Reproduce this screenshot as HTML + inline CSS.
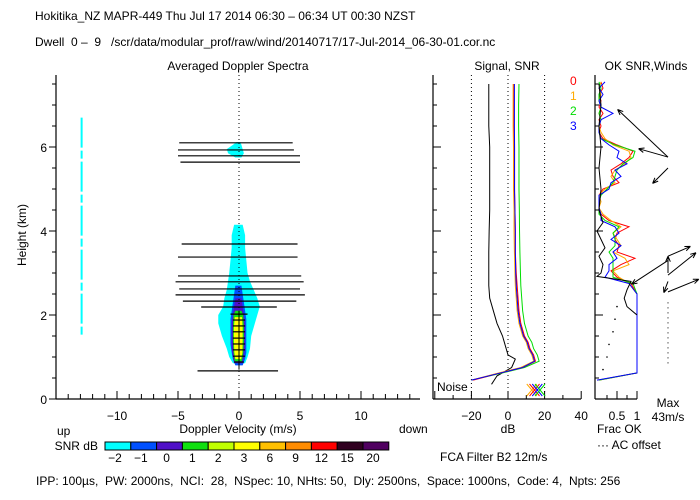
<!DOCTYPE html>
<html><head><meta charset="utf-8"><style>
body{margin:0;background:#fff}
svg{display:block}
text{font-family:"Liberation Sans",sans-serif;font-size:12px;fill:#000}
</style></head><body>
<svg id="chart" width="700" height="500" viewBox="0 0 700 500">
<text x="35" y="20" font-size="13">Hokitika_NZ  MAPR-449  Thu Jul 17 2014 06:30 – 06:34 UT 00:30 NZST</text>
<text x="35" y="46" xml:space="preserve">Dwell  0 –  9   /scr/data/modular_prof/raw/wind/20140717/17-Jul-2014_06-30-01.cor.nc</text>
<text x="238" y="70" text-anchor="middle">Averaged Doppler Spectra</text>
<text x="507" y="70" text-anchor="middle">Signal, SNR</text>
<text x="646" y="70" text-anchor="middle">OK  SNR,Winds</text>
<text x="26" y="235" text-anchor="middle" transform="rotate(-90 26 235)">Height (km)</text>
<text x="238" y="433" text-anchor="middle">Doppler Velocity (m/s)</text>
<text x="57" y="435">up</text>
<text x="399" y="433">down</text>
<text x="98" y="450" text-anchor="end">SNR dB</text>
<text x="508" y="433" text-anchor="middle">dB</text>
<text x="597" y="433">Frac OK</text>
<text x="597" y="449">··· AC offset</text>
<text x="668" y="407" text-anchor="middle">Max</text>
<text x="668" y="421" text-anchor="middle">43m/s</text>
<text x="440" y="461">FCA Filter B2 12m/s</text>
<text x="437" y="391">Noise</text>
<text x="36" y="485" font-size="11.5" xml:space="preserve">IPP: 100µs,  PW: 2000ns,  NCI:  28,  NSpec: 10, NHts: 50,  Dly: 2500ns,  Space: 1000ns,  Code: 4,  Npts: 256</text>
<g id="legend">
<text x="570" y="85" fill="#f00" style="fill:#f00">0</text>
<text x="570" y="100" style="fill:#fa0">1</text>
<text x="570" y="115" style="fill:#0d0">2</text>
<text x="570" y="130" style="fill:#00f">3</text>
</g>
<g id="plots"></g>
</svg>
<script>
// ---- data ----
const snrColors = ['#00ffff','#0050ff','#5010c8','#10e010','#c0ff00','#ffff00','#ffc000','#ff8c00','#ff0000','#300020','#500060'];
const snrLabels = ['−2','−1','0','1','2','3','6','9','12','15','20'];
const cyanH = [0.85,1.0,1.2,1.5,1.8,2.0,2.2,2.4,2.6,2.8,3.0,3.3,3.6,3.9,4.15];
const cyanL = [-0.5,-0.8,-1.0,-1.4,-1.7,-1.7,-1.3,-1.2,-1.0,-0.9,-0.8,-0.7,-0.6,-0.6,-0.4];
const cyanR = [0.5,0.7,0.9,1.0,1.3,1.5,1.7,1.5,1.2,0.9,0.7,0.6,0.5,0.5,0.3];
const blobH = [5.75,5.85,5.95,6.05,6.12];
const blobL = [-0.3,-0.9,-1.0,-0.5,-0.2];
const blobR = [0.2,0.4,0.3,0.2,0.1];
const blueH = [0.8,0.95,1.1,1.3,1.6,1.9,2.1,2.3,2.5,2.7];
const blueL = [-0.3,-0.5,-0.6,-0.7,-0.7,-0.7,-0.6,-0.5,-0.4,-0.3];
const blueR = [0.3,0.5,0.6,0.6,0.6,0.6,0.5,0.4,0.3,0.2];
const purpH = [0.85,1.0,1.2,1.5,1.8,2.0,2.2,2.4];
const purpL = [-0.4,-0.5,-0.6,-0.6,-0.6,-0.5,-0.4,-0.3];
const purpR = [0.3,0.4,0.5,0.5,0.5,0.4,0.3,0.2];
const greenH = [0.9,1.1,1.4,1.7,2.0,2.1];
const greenL = [-0.35,-0.45,-0.5,-0.5,-0.45,-0.3];
const greenR = [0.25,0.35,0.4,0.4,0.35,0.2];
const yellH = [0.95,1.1,1.4,1.7,1.95];
const yellL = [-0.3,-0.38,-0.42,-0.42,-0.35];
const yellR = [0.18,0.28,0.3,0.3,0.25];
const widthH = [6.1,5.93,5.79,5.64,3.69,3.38,2.93,2.79,2.62,2.48,2.33,2.19,2.02,1.88,1.74,1.6,1.45,1.31,1.17,1.02,0.88,0.67];
const widthL = [-4.9,-5,-5,-4.8,-4.7,-5,-5,-5.2,-4.9,-5.2,-4.6,-3.1,-0.7,-0.5,-0.5,-0.5,-0.5,-0.5,-0.5,-0.5,-0.4,-3.4];
const widthR = [4.4,4.5,5,5,4.8,4.8,5.1,5.3,5,5.4,4.7,3.1,0.7,0.5,0.5,0.5,0.5,0.5,0.5,0.5,0.4,3.2];
const velTicks = [-10,-5,0,5,10];
const hTicks = [0,2,4,6];
const sigH = [0.45,0.6,0.75,0.9,1.05,1.2,1.35,1.5,1.8,2.1,2.4,2.7,3.0,3.5,4.0,4.5,5.0,5.5,6.0,6.5,7.0,7.5];
const snrRed = [-19,-6,8,15,14,12,11,9,7,6,5.5,5,4.5,4,4,3.8,3.5,3.5,3.5,3.3,3.3,3.3];
const snrOrange = [-20,-7,7,14,13,11,10,8,6,5,4.5,4,3.8,3.5,3.3,3.3,3,3,3,2.8,2.8,2.8];
const snrGreen = [-20,-5,9,17,16,14,13,11,9,8,7.5,7,6.8,6.5,6.3,6.2,6,6,6,5.8,5.8,6];
const snrBlue = [-20,-6,8,14.5,13.5,11.5,10.5,8.5,6.5,5.5,5,4.5,4.2,4,4,3.8,3.6,3.6,3.6,3.5,3.5,3.5];
const sigBlackH = [0.35,0.55,0.75,0.95,1.05,1.2,1.35,1.5,1.8,2.1,2.4,2.7,3.0,3.5,4.0,4.5,5.0,5.5,6.0,6.5,7.0,7.5];
const sigBlack = [-9,-6,2,4,0,-1,-2,-3,-6,-8,-10,-10.5,-10.5,-10.5,-10.3,-10,-10,-10,-10,-10.5,-10.5,-10.5];
const dbTicks = [-20,0,20,40];
const okH = [0.45,0.62,1.0,1.5,2.0,2.5,2.75,2.9,3.05,3.2,3.35,3.5,3.65,3.8,3.95,4.1,4.25,4.4,4.55,4.7,4.85,5.0,5.15,5.3,5.45,5.6,5.75,5.9,6.05,6.2,6.35,6.5,6.65,6.8,6.95,7.1,7.25,7.4,7.55];
const okRed    = [0.05,1,1,1,1,1,0.85,0.5,0.35,0.6,0.95,0.5,0.55,0.45,0.5,0.8,0.3,0.1,0.05,0.05,0.05,0.15,0.55,0.4,0.35,0.6,0.8,0.9,0.5,0.15,0.05,0.1,0.05,0.15,0.05,0.1,0.05,0.15,0.1];
const okOrange = [0.02,1,1,1,1,1,0.8,0.55,0.4,0.8,0.7,0.4,0.6,0.5,0.4,0.6,0.35,0.15,0.05,0.1,0.05,0.2,0.45,0.35,0.45,0.7,0.85,0.8,0.4,0.2,0.1,0.05,0.1,0.05,0.1,0.05,0.1,0.05,0.1];
const okGreen  = [0.05,1,1,1,1,1,0.9,0.4,0.4,0.4,0.4,0.3,0.45,0.45,0.4,0.55,0.2,0.05,0.05,0.05,0.1,0.25,0.4,0.45,0.5,0.65,0.9,0.95,0.45,0.1,0.05,0.05,0.1,0.05,0.1,0.05,0.05,0.1,0.05];
const okBlue   = [0.0,1,1,1,1,1,0.8,0.2,0.3,0.3,0.5,0.4,0.6,0.35,0.55,0.45,0.1,0.1,0.05,0.05,0.05,0.3,0.35,0.6,0.45,0.75,0.5,0.55,0.3,0.1,0.05,0.05,0.1,0.4,0.1,0.05,0.15,0.05,0.2];
const okBlackH = [2.0,2.2,2.4,2.6,2.8,2.92,3.0,3.2,3.4,3.6,3.8,4.0,4.2,4.5,5.0,5.5,6.0,6.5,7.0,7.5];
const okBlack  = [1.0,0.75,0.68,0.75,0.85,0.0,0.1,0.15,0.05,0.2,0.1,0.0,0.15,0.05,0.1,0.05,0.1,0.05,0.1,0.05];
const acH = [0.7,1.0,1.3,1.6,1.9,2.2];
const acF = [0.15,0.25,0.3,0.4,0.45,0.5];
const windH = [5.76,5.76,5.5,3.3,3.4,2.55,3.0,2.8,2.95];
const windU = [-36,-21,-11,-26,16,22,0,-3,20];
const windV = [34,6,-11,-17,7,9,12,-8,16];
const okTicks = [0.5,1];

// ---- scales ----
const ns='http://www.w3.org/2000/svg';
const root=document.getElementById('plots');
const yH = h => 399 - h*42;
const xV = v => 239 + v*12.2;
const xDB = d => 508 + d*1.83;
const xOK = f => 597 + f*40;
function mk(tag, attrs, parent){const e=document.createElementNS(ns,tag);for(const k in attrs)e.setAttribute(k,attrs[k]);(parent||root).appendChild(e);return e;}

// spectra contours
function region(H,L,R,color,name){
  const pts=[];
  for(let i=0;i<H.length;i++)pts.push(xV(L[i])+','+yH(H[i]));
  for(let i=H.length-1;i>=0;i--)pts.push(xV(R[i])+','+yH(H[i]));
  const p=mk('polygon',{points:pts.join(' '),fill:color});
  
  
}
region(cyanH,cyanL,cyanR,snrColors[0],'snr-contour-cyan');
region(blobH,blobL,blobR,snrColors[0],'snr-contour-upper');
region(blueH,blueL,blueR,snrColors[1],'snr-contour-blue');
region(purpH,purpL,purpR,snrColors[2],'snr-contour-purple');
region(greenH,greenL,greenR,snrColors[3],'snr-contour-green');
region(yellH,yellL,yellR,snrColors[5],'snr-contour-yellow');
// stray line at -12.9
const sl=mk('line',{x1:xV(-12.9),x2:xV(-12.9),y1:yH(6.7),y2:yH(1.5),stroke:'#00ffff','stroke-width':2,'stroke-dasharray':'30 3 8 3'});


// zero line
const zl=mk('line',{x1:xV(0),x2:xV(0),y1:75,y2:399,stroke:'#000','stroke-dasharray':'1 3'});


// width lines
for(let i=0;i<widthH.length;i++){
  const l=mk('line',{x1:xV(widthL[i]),x2:xV(widthR[i]),y1:yH(widthH[i]),y2:yH(widthH[i]),stroke:'#000','stroke-width':1.2});
  
  
}
const ml=mk('line',{x1:xV(0),x2:xV(0),y1:yH(2.1),y2:yH(0.7),stroke:'#000','stroke-width':1});



// axes
function axisLine(x1,y1,x2,y2,name){const l=mk('line',{x1,y1,x2,y2,stroke:'#000','stroke-width':1.2});}
axisLine(56,75,56,399,'spectra-y-axis');
axisLine(56,399,420,399,'spectra-x-axis');
axisLine(433,75,433,399,'signal-y-axis');
axisLine(433,399,581,399,'signal-x-axis');
axisLine(595,75,595,399,'winds-y-axis');
axisLine(595,399,637,399,'winds-x-axis');
for(let h=0;h<=7.5;h+=0.5){
  const maj=(h%2===0);
  mk('line',{x1:maj?49:52,x2:56,y1:yH(h),y2:yH(h),stroke:'#000'});
  mk('line',{x1:433,x2:maj?441:437,y1:yH(h),y2:yH(h),stroke:'#000'});
  mk('line',{x1:595,x2:maj?603:599,y1:yH(h),y2:yH(h),stroke:'#000'});
}
hTicks.forEach(h=>{const t=mk('text',{x:47,y:yH(h)+5,'text-anchor':'end'});t.textContent=h;});
for(let v=-14;v<=14;v++){mk('line',{x1:xV(v),x2:xV(v),y1:399,y2:v%5===0?391:394,stroke:'#000'});}
velTicks.forEach(v=>{const t=mk('text',{x:xV(v),y:420,'text-anchor':'middle'});t.textContent=v<0?'−'+(-v):v;});
for(let d=-40;d<=40;d+=10){mk('line',{x1:xDB(d),x2:xDB(d),y1:399,y2:d%20===0?391:395,stroke:'#000'});}
dbTicks.forEach(d=>{const t=mk('text',{x:xDB(d),y:420,'text-anchor':'middle'});t.textContent=d<0?'−'+(-d):d;});
[-20,0,20].forEach(d=>{const l=mk('line',{x1:xDB(d),x2:xDB(d),y1:75,y2:399,stroke:'#000','stroke-dasharray':'1 3'});});
for(let f=0.25;f<=1;f+=0.25){mk('line',{x1:xOK(f),x2:xOK(f),y1:399,y2:f%0.5===0?391:395,stroke:'#000'});}
okTicks.forEach(f=>{const t=mk('text',{x:xOK(f),y:420,'text-anchor':'middle'});t.textContent=f;});

// lines
function series(H,vals,xf,color,name){
  const p=mk('polyline',{points:H.map((h,i)=>xf(vals[i])+','+yH(h)).join(' '),fill:'none',stroke:color,'stroke-width':1});
  
  
}
series(sigBlackH,sigBlack,xDB,'#000','signal-line');
series(sigH,snrGreen,xDB,'#00dd00','snr-line-2');
series(sigH,snrOrange,xDB,'#ffaa00','snr-line-1');
series(sigH,snrRed,xDB,'#ff0000','snr-line-0');
series(sigH,snrBlue,xDB,'#0000ff','snr-line-3');
series(okH,okRed,xOK,'#ff0000','ok-line-0');
series(okH,okOrange,xOK,'#ffaa00','ok-line-1');
series(okH,okGreen,xOK,'#00dd00','ok-line-2');
series(okH,okBlue,xOK,'#0000ff','ok-line-3');
series(okBlackH,okBlack,xOK,'#000','ok-line-total');
acH.forEach((h,i)=>{const c=mk('circle',{cx:xOK(acF[i]),cy:yH(h),r:0.8,fill:'#000'});});
// noise X markers
['#ffaa00','#ff0000','#0000ff','#00dd00'].forEach((c,i)=>{
  const x=xDB(13+i*1.5), y=390;
  const g=mk('path',{d:`M${x-5},${y-6}L${x+5},${y+6}M${x+5},${y-6}L${x-5},${y+6}`,stroke:c,fill:'none'});
  
  
});
// wind arrows
const scale=1.4;
windH.forEach((h,i)=>{
  const x0=668,y0=yH(h),x1=x0+windU[i]*scale,y1=y0-windV[i]*scale;
  const ang=Math.atan2(y1-y0,x1-x0),a=6;
  const d=`M${x0},${y0}L${x1},${y1}M${x1},${y1}L${x1-a*Math.cos(ang-0.4)},${y1-a*Math.sin(ang-0.4)}M${x1},${y1}L${x1-a*Math.cos(ang+0.4)},${y1-a*Math.sin(ang+0.4)}`;
  const p=mk('path',{d,stroke:'#000',fill:'none','stroke-width':1});
  
  
});
const wd=mk('line',{x1:668,x2:668,y1:yH(2.3),y2:yH(0.8),stroke:'#000','stroke-dasharray':'1 4'});



// colorbar
snrColors.forEach((c,i)=>{
  const r=mk('rect',{x:105+i*25.8,y:442,width:25.8,height:8,fill:c,stroke:'#000','stroke-width':1});
  
  
  const t=mk('text',{x:105+i*25.8+10,y:462,'text-anchor':'middle'});
  t.textContent=snrLabels[i];
  
  
});
</script>
</body></html>
